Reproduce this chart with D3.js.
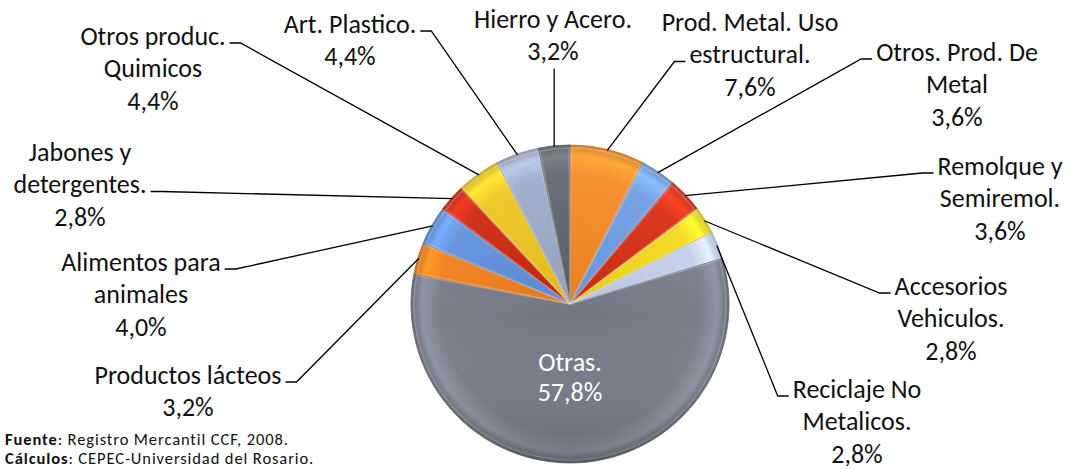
<!DOCTYPE html>
<html>
<head>
<meta charset="utf-8">
<script src="https://cdn.jsdelivr.net/npm/d3@7"></script>
<style>
  body { margin: 0; background: #fff; }
  svg { display: block; font-family: Carlito, Calibri, Lato, sans-serif; }
</style>
</head>
<body>
<svg id="chart" width="1075" height="469"></svg>
<script>
const categories = [
  'Prod. Metal. Uso\nestructural.',
  'Otros. Prod. De\nMetal',
  'Remolque y\nSemiremol.',
  'Accesorios\nVehiculos.',
  'Reciclaje No\nMetalicos.',
  'Otras.',
  'Productos lácteos',
  'Alimentos para\nanimales',
  'Jabones y\ndetergentes.',
  'Otros produc.\nQuimicos',
  'Art. Plastico.',
  'Hierro y Acero.'
];
const values = [7.6, 3.6, 3.6, 2.8, 2.8, 57.8, 3.2, 4.0, 2.8, 4.4, 4.4, 3.2];
const colors = ['#f5861c', '#6b9be4', '#d62a0e', '#f4d81c', '#c3cfea', '#787e8a',
                '#f07f1c', '#5f8fdb', '#cc240c', '#edc41a', '#9aa8c6', '#5b6068'];

// where each label sits (centre of its first line) and where its leader attaches
const labelLayout = [
  { x: 750, y: 22, side: 'left', line: 1 },
  { x: 957, y: 52, side: 'left', line: 0 },
  { x: 1000, y: 166, side: 'left', line: 0 },
  { x: 951, y: 286, side: 'left', line: 0 },
  { x: 857, y: 389, side: 'left', line: 0 },
  { x: 570, y: 362, side: 'inside' },
  { x: 188, y: 375, side: 'right', line: 0 },
  { x: 141, y: 262, side: 'right', line: 0 },
  { x: 80, y: 152, side: 'right', line: 1 },
  { x: 153, y: 36, side: 'right', line: 0 },
  { x: 350, y: 24, side: 'right', line: 0 },
  { x: 553, y: 19, side: 'bottom' }
];

const width = 1075, height = 469;
const cx = 570, cy = 304, radius = 159;
const fontSize = 26, lineGap = 32.5;
const pct = d3.formatLocale({ decimal: ',', thousands: '.', grouping: [3], currency: ['', ''] }).format('.1f');

const svg = d3.select('#chart');
const defs = svg.append('defs');

const pie = d3.pie().sort(null).value(d => d.value);
const arcs = pie(values.map((value, i) => ({ value, name: categories[i], color: colors[i], layout: labelLayout[i] })));
const arc = d3.arc().innerRadius(0).outerRadius(radius);

// bevel-ish gradient for each slice: light rim, dark edge
arcs.forEach((d, i) => {
  const c = d3.color(d.data.color);
  const g = defs.append('radialGradient')
    .attr('id', 'g' + i)
    .attr('gradientUnits', 'userSpaceOnUse')
    .attr('cx', 0).attr('cy', 0).attr('r', radius);
  g.append('stop').attr('offset', 0).attr('stop-color', c.darker(0.15));
  g.append('stop').attr('offset', 0.82).attr('stop-color', c);
  g.append('stop').attr('offset', 0.93).attr('stop-color', c.brighter(0.45));
  g.append('stop').attr('offset', 1).attr('stop-color', c.darker(0.5));
});

const shade = defs.append('linearGradient').attr('id', 'shade').attr('x1', 0).attr('y1', 0).attr('x2', 0).attr('y2', 1);
shade.append('stop').attr('offset', 0).attr('stop-color', '#fff').attr('stop-opacity', 0.12);
shade.append('stop').attr('offset', 0.55).attr('stop-color', '#fff').attr('stop-opacity', 0);
shade.append('stop').attr('offset', 1).attr('stop-color', '#000').attr('stop-opacity', 0.18);

const pieG = svg.append('g').attr('transform', `translate(${cx},${cy})`);

pieG.selectAll('path.slice')
  .data(arcs)
  .join('path')
  .attr('class', 'slice')
  .attr('d', arc)
  .attr('fill', (d, i) => `url(#g${i})`)
  .attr('stroke', d => d3.color(d.data.color).darker(0.6))
  .attr('stroke-width', 0.8);

// inner highlight along the radial edges
pieG.selectAll('path.hl')
  .data(arcs)
  .join('path')
  .attr('class', 'hl')
  .attr('d', d3.arc().innerRadius(0).outerRadius(radius - 3).padAngle(0.012))
  .attr('fill', 'none')
  .attr('stroke', '#fff')
  .attr('stroke-opacity', 0.22)
  .attr('stroke-width', 1.5);

pieG.append('circle').attr('r', radius).attr('fill', 'url(#shade)').attr('pointer-events', 'none');

// labels
const labels = svg.append('g')
  .attr('font-size', fontSize)
  .attr('text-anchor', 'middle');

const leaders = svg.append('g')
  .attr('fill', 'none')
  .attr('stroke', '#000')
  .attr('stroke-width', 1.3);

arcs.forEach(d => {
  const lay = d.data.layout;
  const lines = d.data.name.split('\n').concat([pct(d.value) + '%']);
  const inside = lay.side === 'inside';
  const text = labels.append('text')
    .attr('fill', inside ? '#fff' : '#111');
  const gap = inside ? 30 : lineGap;
  const spans = lines.map((s, k) => text.append('tspan')
    .attr('x', lay.x)
    .attr('y', lay.y + k * gap + fontSize * 0.34)
    .text(s));

  if (inside) return;

  const mid = (d.startAngle + d.endAngle) / 2;
  const [px, py] = d3.pointRadial(mid, radius - 1);
  const start = [cx + px, cy + py];
  let pts;
  if (lay.side === 'bottom') {
    const bottom = lay.y + (lines.length - 1) * lineGap + fontSize * 0.5 + 4;
    pts = [[start[0], bottom], start];
  } else {
    const box = spans[lay.line].node().getBBox();
    const ly = lay.y + lay.line * lineGap + 7;
    if (lay.side === 'right') {
      const x0 = box.x + box.width + 4;
      pts = [[x0, ly], [x0 + 11, ly], start];
    } else {
      const x0 = box.x - 4;
      pts = [[x0, ly], [x0 - 11, ly], start];
    }
  }
  leaders.append('path').attr('d', d3.line()(pts));
});

// source note
const note = svg.append('g').attr('font-size', 16.5).attr('letter-spacing', 0.9).attr('fill', '#111');
const fuente = note.append('text').attr('x', 5).attr('y', 445);
fuente.append('tspan').attr('font-weight', 'bold').text('Fuente');
fuente.append('tspan').text(': Registro Mercantil CCF, 2008.');
const calc = note.append('text').attr('x', 5).attr('y', 464);
calc.append('tspan').attr('font-weight', 'bold').text('Cálculos');
calc.append('tspan').text(': CEPEC-Universidad del Rosario.');
</script>
</body>
</html>
